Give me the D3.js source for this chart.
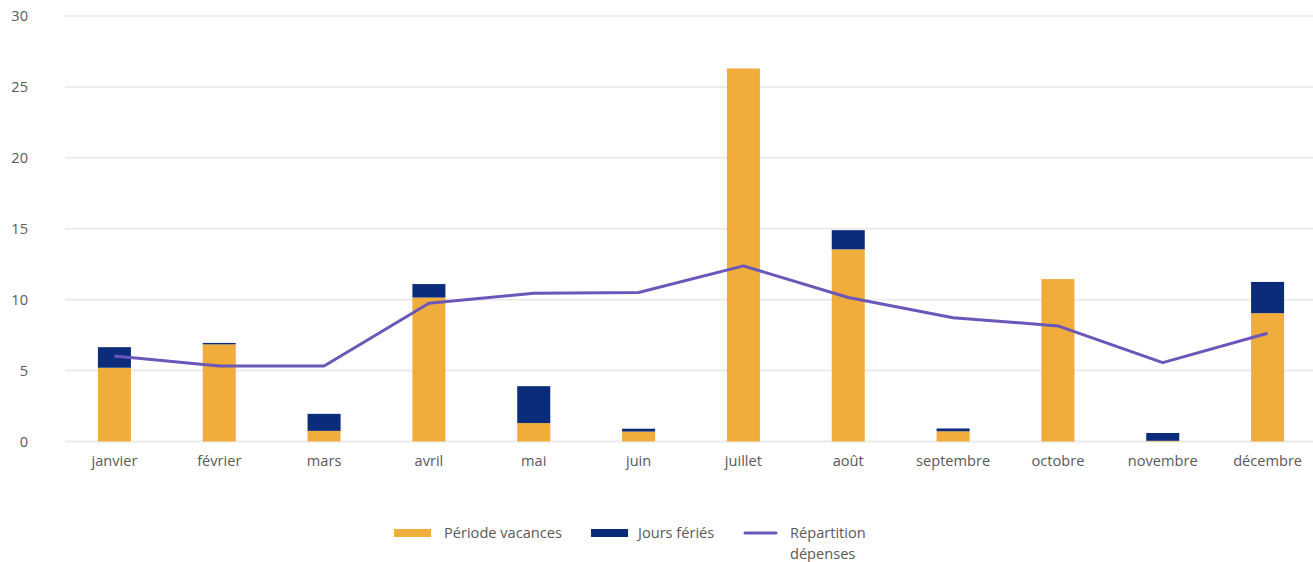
<!DOCTYPE html>
<html>
<head>
<meta charset="utf-8">
<script src="https://cdn.jsdelivr.net/npm/d3@7"></script>
<style>
  body { margin: 0; background: #fff; }
  text { font-family: "Open Sans", sans-serif; fill: #595959; }
</style>
</head>
<body>
<div id="app"></div>
<script>
"use strict";

// Months on the x axis
const months = ['janvier', 'février', 'mars', 'avril', 'mai', 'juin', 'juillet', 'août', 'septembre', 'octobre', 'novembre', 'décembre'];
// Stacked bars
const vacances = [5.2, 6.85, 0.75, 10.15, 1.3, 0.7, 26.3, 13.55, 0.72, 11.45, 0.05, 9.05];
const feries = [1.45, 0.1, 1.2, 0.95, 2.6, 0.2, 0, 1.35, 0.2, 0, 0.55, 2.2];
// Line
const depenses = [6.03, 5.32, 5.32, 9.75, 10.45, 10.5, 12.38, 10.15, 8.73, 8.15, 5.56, 7.63];
// Y ticks
const yTicks = [0, 5, 10, 15, 20, 25, 30];

const legendItems = [
    { label: ['Période vacances'], color: '#F0AD3C', type: 'bar' },
    { label: ['Jours fériés'], color: '#0B2C7A', type: 'bar' },
    { label: ['Répartition', 'dépenses'], color: '#6B56B9', type: 'line' }
];

const width = 1313, height = 562;
const margin = { top: 16, right: -7, bottom: 120.5, left: 62 };
const fontSize = '14.6px';

const svg = d3.select('#app').append('svg')
    .attr('width', width)
    .attr('height', height);

const x = d3.scaleBand()
    .domain(months)
    .range([margin.left, width - margin.right])
    .paddingInner(0.685)
    .paddingOuter(0.3425);

const y = d3.scaleLinear()
    .domain([0, 30])
    .range([height - margin.bottom, margin.top]);

// Gridlines
svg.append('g')
    .selectAll('line')
    .data(yTicks)
    .join('line')
    .attr('x1', 65)
    .attr('x2', width)
    .attr('y1', d => y(d))
    .attr('y2', d => y(d))
    .attr('stroke', '#EBEBEB')
    .attr('stroke-width', 2);

// Y axis labels
const yAxis = svg.append('g')
    .attr('transform', 'translate(28,0)')
    .call(d3.axisLeft(y).tickValues(yTicks).tickSize(0).tickPadding(0));
yAxis.select('.domain').remove();
yAxis.selectAll('text')
    .style('font-size', fontSize)
    .attr('fill', '#595959')
    .attr('font-family', '"Open Sans", sans-serif');

// X axis labels
const xAxis = svg.append('g')
    .attr('transform', `translate(0,${y(0) + 14})`)
    .call(d3.axisBottom(x).tickSize(0).tickPadding(0));
xAxis.select('.domain').remove();
xAxis.selectAll('text')
    .style('font-size', fontSize)
    .attr('fill', '#595959')
    .attr('font-family', '"Open Sans", sans-serif');

// Stacked bars
const rows = months.map((m, i) => ({ month: m, vacances: vacances[i], feries: feries[i] }));
const stack = d3.stack().keys(['vacances', 'feries'])(rows);
const colors = { vacances: '#F0AD3C', feries: '#0B2C7A' };

svg.append('g')
    .selectAll('g')
    .data(stack)
    .join('g')
    .attr('fill', d => colors[d.key])
    .selectAll('rect')
    .data(d => d)
    .join('rect')
    .attr('x', d => x(d.data.month))
    .attr('width', x.bandwidth())
    .attr('y', d => y(d[1]))
    .attr('height', d => y(d[0]) - y(d[1]));

// Line
const line = d3.line()
    .x((d, i) => x(months[i]) + x.bandwidth() / 2)
    .y(d => y(d));

svg.append('path')
    .datum(depenses)
    .attr('fill', 'none')
    .attr('stroke', '#6B56B9')
    .attr('stroke-width', 3)
    .attr('stroke-linejoin', 'round')
    .attr('d', line);

// Legend
const legendX = [394, 591, 744];
const legend = svg.append('g')
    .selectAll('g')
    .data(legendItems)
    .join('g')
    .attr('transform', (d, i) => `translate(${legendX[i]},533)`);

legend.filter(d => d.type === 'bar')
    .append('rect')
    .attr('x', 0)
    .attr('y', -4)
    .attr('width', 37)
    .attr('height', 8)
    .attr('fill', d => d.color);

legend.filter(d => d.type === 'line')
    .append('line')
    .attr('x1', 1)
    .attr('x2', 32)
    .attr('stroke', d => d.color)
    .attr('stroke-width', 3)
    .attr('stroke-linecap', 'round');

legend.append('text')
    .attr('x', (d, i) => i === 2 ? 46 : (i === 0 ? 50 : 47))
    .attr('y', 0)
    .style('font-size', fontSize)
    .selectAll('tspan')
    .data(d => d.label)
    .join('tspan')
    .attr('x', function () { return this.parentNode.getAttribute('x'); })
    .attr('dy', (d, i) => i === 0 ? '0.35em' : '21')
    .text(d => d);
</script>
</body>
</html>
